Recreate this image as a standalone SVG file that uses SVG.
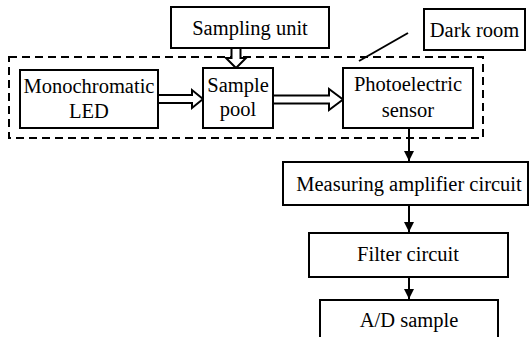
<svg xmlns="http://www.w3.org/2000/svg" width="531" height="337" viewBox="0 0 531 337">
  <style>
    .box { fill: #fff; stroke: #000; stroke-width: 2; }
    .lbl { font-family: "Liberation Serif", "Times New Roman", serif; font-size: 20.5px; fill: #000; text-anchor: middle; }
    .dash { fill: none; stroke: #000; stroke-width: 2; stroke-dasharray: 8 5; }
    .hollow { fill: #fff; stroke: #000; stroke-width: 2; stroke-linejoin: miter; }
    .wire { stroke: #000; stroke-width: 2; fill: none; }
  </style>
  <defs>
    <marker id="head" viewBox="0 0 10 10" refX="10" refY="5" markerWidth="5" markerHeight="5" orient="auto" markerUnits="strokeWidth">
      <path d="M0,0 L10,5 L0,10 z" fill="#000"/>
    </marker>
  </defs>
  <rect width="531" height="337" fill="#fff"/>

  <!-- dark room enclosure -->
  <rect id="enclosure" class="dash" x="9" y="57" width="474" height="81"/>

  <g id="connectors">
    <!-- hollow arrows -->
    <path class="hollow" d="M231.5,48 L240.5,48 L240.5,58 L246,58 L236,68 L226,58 L231.5,58 Z"/>
    <path class="hollow" d="M158,95 L192,95 L192,90 L203,99 L192,108 L192,103 L158,103 Z"/>
    <path class="hollow" d="M273,95.5 L329,95.5 L329,89 L343,99.5 L329,110 L329,103.5 L273,103.5 Z"/>
    <!-- pointer to dark room -->
    <line class="wire" x1="359" y1="61" x2="408" y2="33"/>
    <!-- signal chain -->
    <line class="wire" x1="409" y1="128" x2="409" y2="161" marker-end="url(#head)"/>
    <line class="wire" x1="409" y1="205" x2="409" y2="232" marker-end="url(#head)"/>
    <line class="wire" x1="409" y1="277" x2="409" y2="299" marker-end="url(#head)"/>
  </g>

  <g id="sampling-unit">
    <rect class="box" x="171" y="7" width="158" height="41"/>
    <text class="lbl" x="250" y="35">Sampling unit</text>
  </g>
  <g id="dark-room">
    <rect class="box" x="424" y="9" width="101" height="41"/>
    <text class="lbl" x="474.5" y="37">Dark room</text>
  </g>
  <g id="led">
    <rect class="box" x="20" y="70" width="138" height="58"/>
    <text class="lbl" x="89" y="93">Monochromatic</text>
    <text class="lbl" x="89" y="118">LED</text>
  </g>
  <g id="sample-pool">
    <rect class="box" x="203" y="68" width="70" height="60"/>
    <text class="lbl" x="238" y="92">Sample</text>
    <text class="lbl" x="238" y="116">pool</text>
  </g>
  <g id="sensor">
    <rect class="box" x="343" y="68" width="130" height="60"/>
    <text class="lbl" x="408" y="91">Photoelectric</text>
    <text class="lbl" x="408" y="117">sensor</text>
  </g>
  <g id="amplifier">
    <rect class="box" x="283" y="162" width="245" height="43"/>
    <text class="lbl" x="409" y="191">Measuring amplifier circuit</text>
  </g>
  <g id="filter">
    <rect class="box" x="309" y="233" width="199" height="44"/>
    <text class="lbl" x="408" y="261">Filter circuit</text>
  </g>
  <g id="ad-sample">
    <rect class="box" x="320" y="300" width="178" height="45"/>
    <text class="lbl" x="409" y="327">A/D sample</text>
  </g>
</svg>
